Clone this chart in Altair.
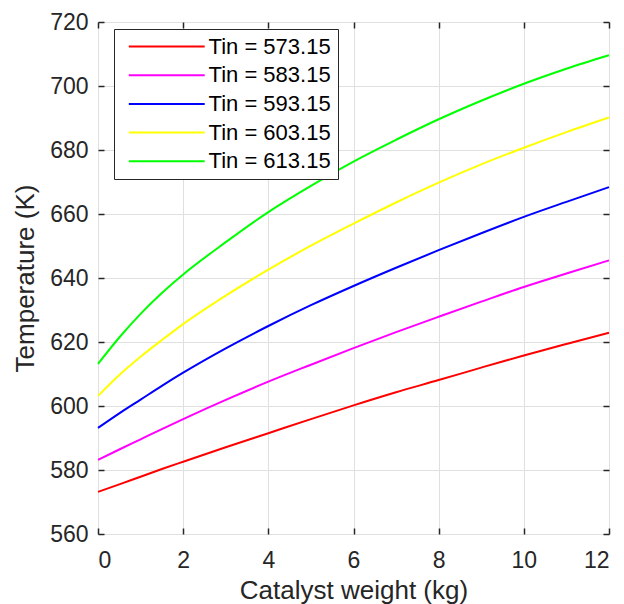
import altair as alt
import pandas as pd

# Catalyst weight (kg)
weight = [0, 0.5, 1, 1.5, 2, 3, 4, 5, 6, 7, 8, 9, 10, 11, 12]

# Temperature (K) for each inlet temperature
t_573 = [573.15, 575.5, 577.9, 580.3, 582.6, 587.1, 591.5, 595.9, 600.2, 604.3, 608.1, 612.0, 615.8, 619.4, 622.9]
t_583 = [583.15, 586.4, 589.6, 592.8, 595.9, 601.9, 607.6, 612.9, 618.1, 623.1, 627.9, 632.6, 637.2, 641.4, 645.5]
t_593 = [593.15, 597.7, 602.0, 606.3, 610.4, 618.0, 625.0, 631.5, 637.5, 643.2, 648.7, 654.0, 659.1, 663.8, 668.4]
t_603 = [603.15, 609.7, 615.4, 620.6, 625.6, 634.5, 642.6, 650.1, 657.0, 663.6, 669.8, 675.5, 680.7, 685.6, 690.2]
t_613 = [613.15, 621.4, 628.8, 635.3, 641.1, 651.2, 660.6, 668.8, 676.4, 683.2, 689.6, 695.4, 700.7, 705.4, 709.6]

labels = ["Tin = 573.15", "Tin = 583.15", "Tin = 593.15", "Tin = 603.15", "Tin = 613.15"]
colors = ["#FF0000", "#FF00FF", "#0000FF", "#FFFF00", "#00FF00"]

x_ticks = [0, 2, 4, 6, 8, 10, 12]
y_ticks = [560, 580, 600, 620, 640, 660, 680, 700, 720]

series = [t_573, t_583, t_593, t_603, t_613]
rows = []
for lab, vals in zip(labels, series):
    for w, t in zip(weight, vals):
        rows.append({"w": w, "T": t, "Tin": lab})
df = pd.DataFrame(rows)

FONT = "Liberation Sans"
TXT = "#262626"
xs = alt.Scale(domain=[0, 12], nice=False, zero=False)
ys = alt.Scale(domain=[560, 720], nice=False, zero=False)

lines = alt.Chart(df).mark_line(strokeWidth=2, interpolate="monotone").encode(
    x=alt.X("w:Q", scale=xs, axis=alt.Axis(
        values=x_ticks, orient="bottom", title="Catalyst weight (kg)", ticks=False, domain=False,
        grid=True, gridColor="#e0e0e0", gridWidth=1,
        labelFont=FONT, labelFontSize=23, labelColor=TXT, labelPadding=15,
        titleFont=FONT, titleFontSize=26, titleFontWeight="normal", titleColor=TXT, titlePadding=5)),
    y=alt.Y("T:Q", scale=ys, axis=alt.Axis(
        values=y_ticks, orient="left", title="Temperature (K)", ticks=False, domain=False,
        grid=True, gridColor="#e0e0e0", gridWidth=1,
        labelFont=FONT, labelFontSize=23, labelColor=TXT, labelPadding=10,
        titleFont=FONT, titleFontSize=26, titleFontWeight="normal", titleColor=TXT, titlePadding=11)),
    color=alt.Color("Tin:N", scale=alt.Scale(domain=labels, range=colors), legend=alt.Legend(
        title=None, orient="none", legendX=16, legendY=7,
        symbolType="M-8,0H8", symbolSize=90, symbolStrokeWidth=2, symbolOffset=35.25,
        labelFont=FONT, labelFontSize=22, labelColor="black", labelOffset=30.8, labelLimit=300,
        rowPadding=6.7, padding=6.5, fillColor="white", strokeColor=TXT, cornerRadius=0)),
)

def tick_layer(xorient, yorient):
    return alt.Chart(df).mark_point(opacity=0).encode(
        x=alt.X("w:Q", scale=xs, title=None, axis=alt.Axis(
            values=x_ticks, orient=xorient, offset=-6, tickSize=6, tickWidth=1.5, tickColor=TXT,
            labels=False, domain=False, grid=False)),
        y=alt.Y("T:Q", scale=ys, title=None, axis=alt.Axis(
            values=y_ticks, orient=yorient, offset=-6, tickSize=6, tickWidth=1.5, tickColor=TXT,
            labels=False, domain=False, grid=False)),
    )

chart = alt.layer(lines, tick_layer("bottom", "left"), tick_layer("top", "right")).resolve_axis(
    x="independent", y="independent"
).properties(
    width=511, height=512,
    autosize=alt.AutoSizeParams(type="none"),
    padding={"left": 98, "top": 22, "right": 15, "bottom": 70},
).configure_view(stroke=TXT, strokeWidth=1.5).configure(background="white")

chart.save("out.html", embed_options={"renderer": "svg", "actions": False})
